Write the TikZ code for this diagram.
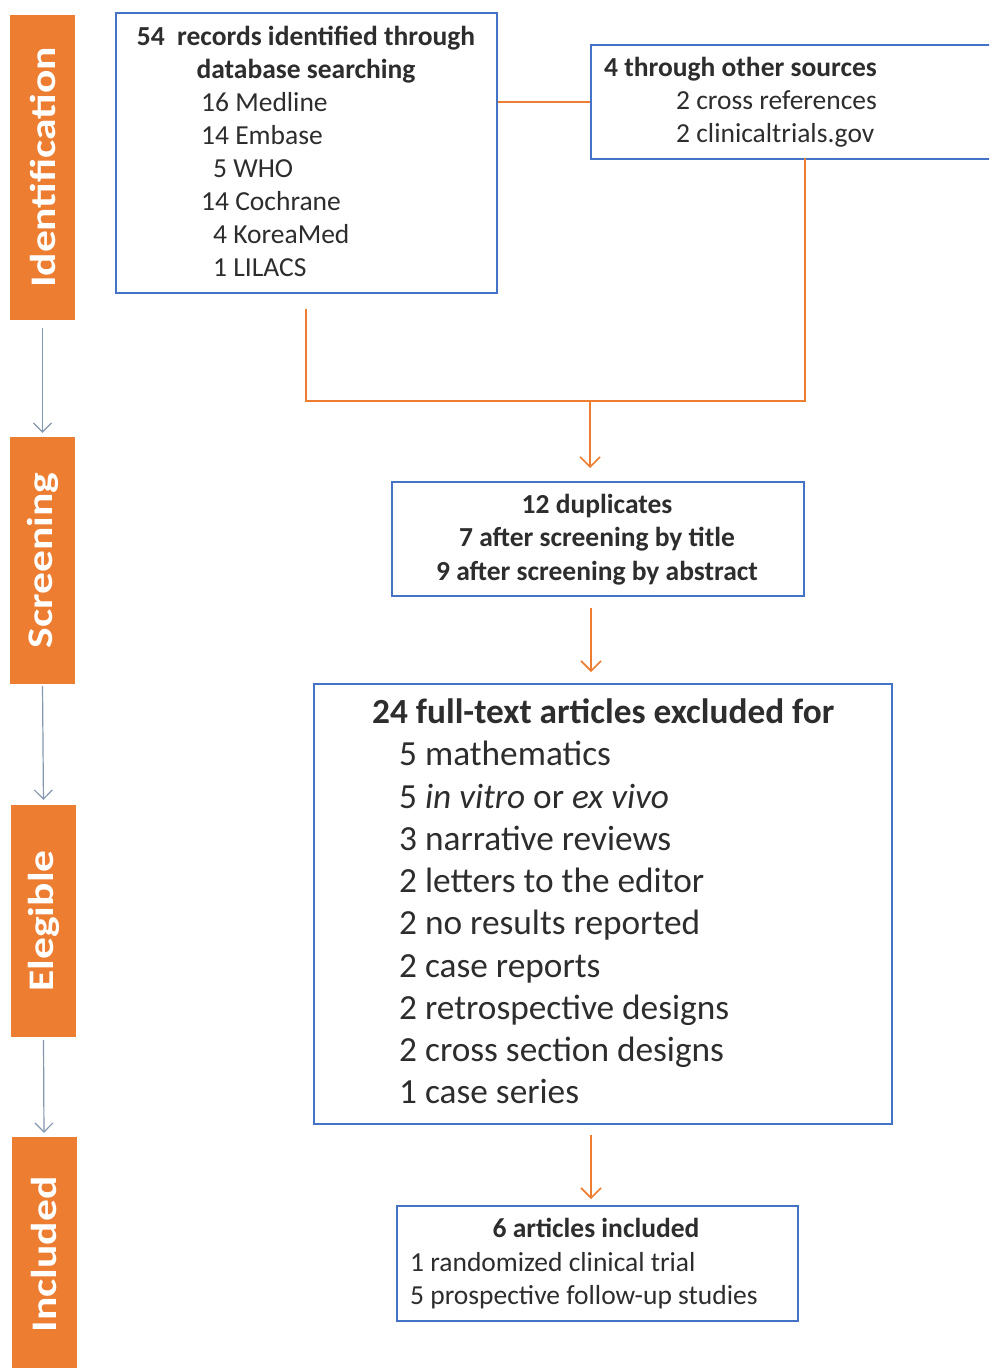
\documentclass[tikz,border=0pt]{standalone}
\usepackage{fontspec}
\setmainfont{Carlito}
\usepackage{xcolor}
\usepackage{tikz}
\usetikzlibrary{arrows.meta, positioning}
\definecolor{stageorange}{RGB}{237,125,49}
\definecolor{boxblue}{RGB}{68,114,196}
\definecolor{flowgray}{RGB}{132,151,176}
\definecolor{textgray}{RGB}{45,45,45}
\newcommand{\stagetext}[1]{\rotatebox{90}{\scalebox{1.21}[1]{#1}}}

\begin{document}
\begin{tikzpicture}[
    x=1pt, y=-1pt,
    stage/.style={rectangle, fill=stageorange, inner sep=0pt, minimum width=65pt, text=white, font=\fontsize{36}{36}\selectfont\bfseries},
    box/.style={rectangle, draw=boxblue, line width=1.6pt, fill=white, inner sep=0pt, anchor=north west},
    line/.style={anchor=base west, inner sep=0pt, text=textgray, font=\fontsize{27.5}{33}\selectfont},
    head/.style={anchor=base, inner sep=0pt, text=textgray, font=\fontsize{27.5}{33}\selectfont\bfseries},
    bigline/.style={anchor=base west, inner sep=0pt, text=textgray, font=\fontsize{35.3}{42}\selectfont},
    orangeline/.style={stageorange, line width=1.6pt},
    arrow/.style={-{Straight Barb[length=10pt, width=20pt, line width=1.6pt]}, stageorange, line width=1.6pt},
    garrow/.style={-{Straight Barb[length=9pt, width=18pt, line width=1.2pt]}, flowgray, line width=1.2pt}
]
\useasboundingbox (0,0) rectangle (989,1368);
\clip (0,0) rectangle (989,1368);

% Stages
\node[stage, minimum height=305pt] (ident) at (42.5,167.5) {\stagetext{Identification}};
\node[stage, minimum height=247pt] (screen) at (42.5,560.5) {\stagetext{Screening}};
\node[stage, minimum height=232pt] (elig) at (43.5,921) {\stagetext{Elegible}};
\node[stage, minimum height=235pt] (incl) at (44,1254.5) {\stagetext{Included}};

\draw[garrow, shorten <=8pt, shorten >=4pt] (ident.south) -- (screen.north);
\draw[garrow, shorten <=2pt, shorten >=5pt] (screen.south) -- (elig.north);
\draw[garrow, shorten <=3pt, shorten >=4pt] (elig.south) -- (incl.north);

% Identification
\node[box, minimum width=381pt, minimum height=280pt] (records) at (115,12) {};
\node[head] (recordshead) at (306,45) {54\ \ records identified through};
\node[head] (recordshead2) at (306,78) {database searching};
\node[line] (medline) at (201,111) {16 Medline};
\node[line] (embase) at (201,144) {14 Embase};
\node[line] (who) at (213,177) {5 WHO};
\node[line] (cochrane) at (201,210) {14 Cochrane};
\node[line] (koreamed) at (213,243) {4 KoreaMed};
\node[line] (lilacs) at (213,276) {1 LILACS};

\node[box, minimum width=450pt, minimum height=114pt] (other) at (590,44) {};
\node[line, font=\fontsize{27.5}{33}\selectfont\bfseries] (otherhead) at (604,76) {4 through other sources};
\node[line] (crossref) at (676,109) {2 cross references};
\node[line] (trials) at (676,142) {2 clinicaltrials.gov};

% Connectors
\coordinate (recfoot) at (306,309);
\coordinate (otherfoot) at (805,158);
\coordinate (split) at (590,401);
\draw[orangeline] (records.east |- other.west) -- (other.west);
\draw[orangeline] (recfoot) |- (split) -| (otherfoot);

% Screening
\node[box, minimum width=412pt, minimum height=114pt] (dups) at (391,481) {};
\node[head] (dupsa) at (597,513) {12 duplicates};
\node[head] (dupsb) at (597,546) {7 after screening by title};
\node[head] (dupsc) at (597,580) {9 after screening by abstract};

% Elegible
\node[box, minimum width=578pt, minimum height=440pt] (excl) at (313,683) {};
\node[bigline, font=\fontsize{35.3}{42}\selectfont\bfseries] (exclhead) at (372,723) {24 full-text articles excluded for};
\node[bigline] (ex1) at (399,765) {5 mathematics};
\node[bigline] (ex2) at (399,808) {5 \textit{in vitro} or \textit{ex vivo}};
\node[bigline] (ex3) at (399,850) {3 narrative reviews};
\node[bigline] (ex4) at (399,892) {2 letters to the editor};
\node[bigline] (ex5) at (399,934) {2 no results reported};
\node[bigline] (ex6) at (399,977) {2 case reports};
\node[bigline] (ex7) at (399,1019) {2 retrospective designs};
\node[bigline] (ex8) at (399,1061) {2 cross section designs};
\node[bigline] (ex9) at (399,1103) {1 case series};

% Included
\node[box, minimum width=401pt, minimum height=115pt] (incbox) at (396,1205) {};
\node[head] (inchead) at (596,1237) {6 articles included};
\node[line] (rct) at (410,1271) {1 randomized clinical trial};
\node[line] (prosp) at (410,1304) {5 prospective follow-up studies};

% Arrows
\draw[arrow, shorten >=13pt] (split) -- (split |- dups.north);
\draw[arrow, shorten <=11pt, shorten >=11pt] (dups.south -| 591,0) -- (excl.north -| 591,0);
\draw[arrow, shorten <=10pt, shorten >=6pt] (excl.south -| 591,0) -- (incbox.north -| 591,0);

\end{tikzpicture}
\end{document}
